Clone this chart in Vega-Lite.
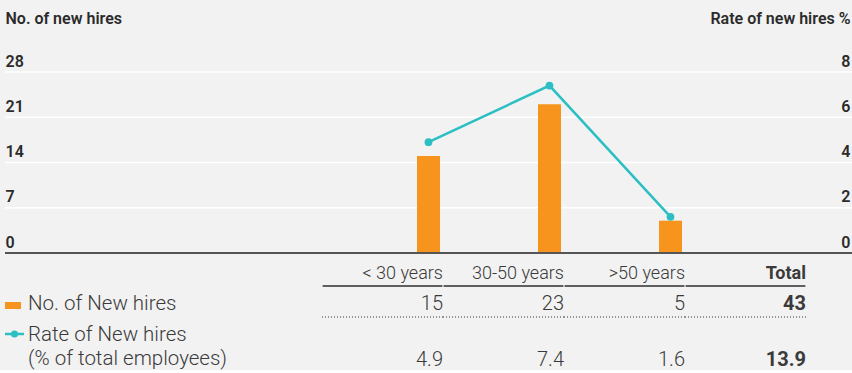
{
  "$schema": "https://vega.github.io/schema/vega-lite/v6.json",
  "background": "#f2f2f2",
  "padding": {"left": 0, "top": 10, "right": 0, "bottom": 0},
  "config": {
    "view": {"stroke": null},
    "font": "Roboto",
    "concat": {"spacing": 33}
  },
  "datasets": {
    "groups": [
      {"age": "< 30 years", "hires": 15, "rate": 4.9},
      {"age": "30-50 years", "hires": 23, "rate": 7.4},
      {"age": ">50 years", "hires": 5, "rate": 1.6}
    ],
    "table": [
      {"age": "< 30 years", "hires": 15, "rate": 4.9},
      {"age": "30-50 years", "hires": 23, "rate": 7.4},
      {"age": ">50 years", "hires": 5, "rate": 1.6},
      {"age": "Total", "hires": 43, "rate": 13.9}
    ],
    "gridlines": [
      {"v": 0}, {"v": 7}, {"v": 14}, {"v": 21}, {"v": 28}
    ],
    "labels": [
      {"row": "hires", "series": "No. of New hires"},
      {"row": "rate", "series": "Rate of New hires\n(% of total employees)"}
    ]
  },
  "bounds": "flush",
  "resolve": {"scale": {"x": "independent"}},
  "vconcat": [
    {
      "width": 847,
      "height": 181,
      "layer": [
        {
          "data": {"name": "gridlines"},
          "transform": [{"filter": "datum.v > 0"}],
          "mark": {"type": "rule", "color": "#ffffff", "strokeWidth": 1.5},
          "encoding": {
            "y": {"field": "v", "type": "quantitative", "scale": {"domain": [0, 28], "nice": false}, "axis": null}
          }
        },
        {
          "data": {"name": "groups"},
          "mark": {"type": "bar", "width": 23, "color": "#f7941d", "xOffset": 46},
          "encoding": {
            "x": {
              "field": "age", "type": "nominal",
              "scale": {"type": "band", "domain": ["< 30 years", "30-50 years", ">50 years", "Total"], "range": [317, 801], "paddingInner": 0, "paddingOuter": 0},
              "axis": null
            },
            "y": {
              "field": "hires", "type": "quantitative",
              "scale": {"domain": [0, 28], "nice": false},
              "axis": {
                "values": [0, 7, 14, 21, 28],
                "grid": false, "domain": false, "ticks": false, "tickSize": 0,
                "labelAlign": "left", "labelBaseline": "alphabetic", "labelPadding": 0, "labelOffset": -6,
                "labelFont": "Roboto", "labelFontSize": 16, "labelFontWeight": 600, "labelColor": "#2b2b2b",
                "title": "No. of new hires", "titleAngle": 0, "titleAlign": "left", "titleBaseline": "alphabetic",
                "titleX": 0, "titleY": -49, "titleFont": "Roboto", "titleFontSize": 16, "titleFontWeight": 600, "titleColor": "#2b2b2b"
              }
            }
          }
        },
        {
          "data": {"name": "gridlines"},
          "transform": [{"filter": "datum.v === 0"}],
          "mark": {"type": "rule", "color": "#555555", "strokeWidth": 2},
          "encoding": {
            "y": {"field": "v", "type": "quantitative", "scale": {"domain": [0, 28], "nice": false}, "axis": null}
          }
        },
        {
          "data": {"name": "groups"},
          "mark": {"type": "line", "color": "#2bbfc4", "strokeWidth": 2.5, "point": {"filled": true, "size": 60, "color": "#2bbfc4"}},
          "encoding": {
            "x": {
              "field": "age", "type": "nominal", "bandPosition": 0.88,
              "scale": {"type": "band", "domain": ["< 30 years", "30-50 years", ">50 years", "Total"], "range": [317, 801], "paddingInner": 0, "paddingOuter": 0},
              "axis": null
            },
            "y": {
              "field": "rate", "type": "quantitative",
              "scale": {"domain": [0, 8], "nice": false},
              "axis": {
                "orient": "right",
                "values": [0, 2, 4, 6, 8],
                "grid": false, "domain": false, "ticks": false, "tickSize": 0,
                "labelAlign": "right", "labelBaseline": "alphabetic", "labelPadding": -2, "labelOffset": -6,
                "labelFont": "Roboto", "labelFontSize": 16, "labelFontWeight": 600, "labelColor": "#2b2b2b",
                "title": "Rate of new hires %", "titleAngle": 0, "titleAlign": "right", "titleBaseline": "alphabetic",
                "titleX": -2, "titleY": -49, "titleFont": "Roboto", "titleFontSize": 16, "titleFontWeight": 600, "titleColor": "#2b2b2b"
              }
            }
          }
        }
      ],
      "resolve": {"scale": {"y": "independent"}}
    },
    {
      "width": 847,
      "height": 62,
      "layer": [
        {
          "data": {"name": "table"},
          "mark": {"type": "text", "align": "right", "baseline": "alphabetic", "dy": -7, "fontSize": 18, "color": "#3a3a3a", "fontWeight": {"expr": "datum.age === 'Total' ? 700 : 300"}},
          "encoding": {
            "x": {"field": "age", "type": "nominal", "bandPosition": 1, "scale": {"type": "band", "domain": ["< 30 years", "30-50 years", ">50 years", "Total"], "range": [317, 801], "paddingInner": 0, "paddingOuter": 0}, "axis": null},
            "y": {"datum": "header", "type": "nominal", "scale": {"type": "point", "domain": ["header", "hires", "rate"], "padding": 0}, "axis": null},
            "text": {"field": "age", "type": "nominal"}
          }
        },
        {
          "data": {"name": "table"},
          "mark": {"type": "text", "align": "right", "baseline": "alphabetic", "dy": -7, "fontSize": 20, "color": "#3a3a3a", "fontWeight": {"expr": "datum.age === 'Total' ? 700 : 300"}},
          "encoding": {
            "x": {"field": "age", "type": "nominal", "bandPosition": 1, "scale": {"type": "band", "domain": ["< 30 years", "30-50 years", ">50 years", "Total"], "range": [317, 801], "paddingInner": 0, "paddingOuter": 0}, "axis": null},
            "y": {"datum": "hires", "type": "nominal", "scale": {"type": "point", "domain": ["header", "hires", "rate"], "padding": 0}, "axis": null},
            "text": {"field": "hires", "type": "quantitative", "format": "d"}
          }
        },
        {
          "data": {"name": "table"},
          "mark": {"type": "text", "align": "right", "baseline": "alphabetic", "dy": 18, "fontSize": 20, "color": "#3a3a3a", "fontWeight": {"expr": "datum.age === 'Total' ? 700 : 300"}},
          "encoding": {
            "x": {"field": "age", "type": "nominal", "bandPosition": 1, "scale": {"type": "band", "domain": ["< 30 years", "30-50 years", ">50 years", "Total"], "range": [317, 801], "paddingInner": 0, "paddingOuter": 0}, "axis": null},
            "y": {"datum": "rate", "type": "nominal", "scale": {"type": "point", "domain": ["header", "hires", "rate"], "padding": 0}, "axis": null},
            "text": {"field": "rate", "type": "quantitative", "format": ".1f"}
          }
        },
        {
          "data": {"name": "table"},
          "mark": {"type": "bar", "height": 1.5, "width": {"band": 0.99}, "color": "#2e2e2e"},
          "encoding": {
            "x": {"field": "age", "type": "nominal", "scale": {"type": "band", "domain": ["< 30 years", "30-50 years", ">50 years", "Total"], "range": [317, 801], "paddingInner": 0, "paddingOuter": 0}, "axis": null},
            "y": {"datum": "header", "type": "nominal", "scale": {"type": "point", "domain": ["header", "hires", "rate"], "padding": 0}, "axis": null}
          }
        },
        {
          "data": {"name": "table"},
          "mark": {"type": "rule", "color": "#333333", "strokeWidth": 1, "strokeDash": [1, 2]},
          "encoding": {
            "x": {"field": "age", "type": "nominal", "bandPosition": 0, "scale": {"type": "band", "domain": ["< 30 years", "30-50 years", ">50 years", "Total"], "range": [317, 801], "paddingInner": 0, "paddingOuter": 0}, "axis": null},
            "x2": {"field": "age", "bandPosition": 1},
            "y": {"datum": "hires", "type": "nominal", "scale": {"type": "point", "domain": ["header", "hires", "rate"], "padding": 0}, "axis": null}
          }
        },
        {
          "data": {"name": "labels"},
          "mark": {"type": "text", "align": "left", "baseline": "alphabetic", "dx": 23, "dy": -7, "fontSize": 20.5, "fontWeight": 300, "color": "#3a3a3a", "lineBreak": "\n", "lineHeight": 24},
          "encoding": {
            "x": {"datum": "label", "type": "nominal", "scale": {"type": "point", "domain": ["label"], "padding": 0, "align": 0}, "axis": null},
            "y": {"field": "row", "type": "nominal", "scale": {"type": "point", "domain": ["header", "hires", "rate"], "padding": 0}, "axis": null},
            "text": {"field": "series", "type": "nominal"}
          }
        },
        {
          "data": {"name": "labels"},
          "transform": [{"filter": "datum.row === 'hires'"}],
          "mark": {"type": "point", "shape": "M-1,-0.44H1V0.44H-1Z", "size": 256, "filled": true, "color": "#f7941d", "opacity": 1, "xOffset": 8, "yOffset": -11.5},
          "encoding": {
            "x": {"datum": "label", "type": "nominal", "scale": {"type": "point", "domain": ["label"], "padding": 0, "align": 0}, "axis": null},
            "y": {"field": "row", "type": "nominal", "scale": {"type": "point", "domain": ["header", "hires", "rate"], "padding": 0}, "axis": null}
          }
        },
        {
          "data": {"name": "labels"},
          "transform": [{"filter": "datum.row === 'rate'"}],
          "mark": {"type": "point", "shape": "M-1,0H1", "size": 361, "filled": false, "color": "#2bbfc4", "strokeWidth": 2.5, "opacity": 1, "xOffset": 9.5, "yOffset": -14},
          "encoding": {
            "x": {"datum": "label", "type": "nominal", "scale": {"type": "point", "domain": ["label"], "padding": 0, "align": 0}, "axis": null},
            "y": {"field": "row", "type": "nominal", "scale": {"type": "point", "domain": ["header", "hires", "rate"], "padding": 0}, "axis": null}
          }
        },
        {
          "data": {"name": "labels"},
          "transform": [{"filter": "datum.row === 'rate'"}],
          "mark": {"type": "point", "shape": "circle", "size": 50, "filled": true, "color": "#2bbfc4", "opacity": 1, "xOffset": 9.5, "yOffset": -14},
          "encoding": {
            "x": {"datum": "label", "type": "nominal", "scale": {"type": "point", "domain": ["label"], "padding": 0, "align": 0}, "axis": null},
            "y": {"field": "row", "type": "nominal", "scale": {"type": "point", "domain": ["header", "hires", "rate"], "padding": 0}, "axis": null}
          }
        }
      ],
      "resolve": {"scale": {"x": "independent"}}
    }
  ]
}
